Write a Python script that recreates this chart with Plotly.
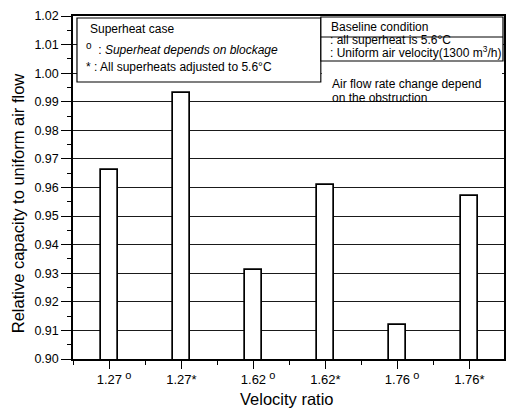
import plotly.graph_objects as go

# ---- data ----
categories = ["1.27 o", "1.27*", "1.62 o", "1.62*", "1.76 o", "1.76*"]
SUP_O = "<sup><span style='font-size:11px'> o</span></sup>"
HIDE_O = "<span style='color:rgba(0,0,0,0)'>" + SUP_O + "</span>"
tick_labels = [
    HIDE_O + "1.27" + SUP_O,
    "1.27*",
    HIDE_O + "1.62" + SUP_O,
    "1.62*",
    HIDE_O + "1.76" + SUP_O,
    "1.76*",
]
relative_capacity = [0.966, 0.993, 0.931, 0.961, 0.912, 0.957]
x_pos = list(range(len(categories)))

FONT = "Liberation Sans, Arial, Helvetica, sans-serif"
W, H = 506, 414
ML, MR, MT, MB = 73, 0, 16, 55
PW, PH = W - ML - MR, H - MT - MB


def px(x):
    return (x - ML) / PW


def py(y):
    return (H - MB - y) / PH


fig = go.Figure()
fig.add_trace(go.Bar(
    x=x_pos, y=relative_capacity, width=0.23,
    marker=dict(color="white", line=dict(color="black", width=1.7)),
    showlegend=False,
))

shapes = [
    # legend box 1
    dict(type="rect", xref="paper", yref="paper", x0=px(77), x1=px(322), y0=py(82), y1=py(18),
         fillcolor="white", line=dict(color="black", width=1.2), layer="above"),
    # baseline box
    dict(type="rect", xref="paper", yref="paper", x0=px(322), x1=px(505), y0=py(61), y1=py(17),
         fillcolor="white", line=dict(color="black", width=1.2), layer="above"),
    dict(type="line", xref="paper", yref="paper", x0=px(322), x1=px(505), y0=py(37), y1=py(37),
         line=dict(color="black", width=1), layer="above"),
    # white patch behind the air flow note
    dict(type="rect", xref="paper", yref="paper", x0=px(323), x1=px(504), y0=py(93), y1=py(62),
         fillcolor="white", line=dict(width=0), layer="above"),
]

f12 = dict(family=FONT, size=12, color="black")
annotations = [
    dict(text="Superheat case", x=px(88), y=py(29)),
    dict(text="<sup><span style='font-size:10px'>o</span></sup>  : <i>Superheat depends on blockage</i>",
         x=px(84), y=py(48)),
    dict(text="* : All superheats adjusted to 5.6°C", x=px(84), y=py(67)),
    dict(text="Baseline condition", x=px(330), y=py(27)),
    dict(text=": all superheat is 5.6°C", x=px(329), y=py(40)),
    dict(text=": Uniform air velocity(1300 m<sup>3</sup>/h)", x=px(329), y=py(52)),
    dict(text="Air flow rate change depend", x=px(331), y=py(84)),
    dict(text="on the obstruction", x=px(331), y=py(98)),
]
for a in annotations:
    a.update(xref="paper", yref="paper", xanchor="left", yanchor="middle",
             showarrow=False, font=f12)

annotations.append(dict(text="Velocity ratio", xref="paper", yref="paper",
                        x=px(288), y=py(399), xanchor="center", yanchor="middle",
                        showarrow=False, font=dict(family=FONT, size=16.5, color="black")))
annotations.append(dict(text="Relative capacity to uniform air flow", xref="paper", yref="paper",
                        x=px(18), y=py(203), xanchor="center", yanchor="middle", textangle=-90,
                        showarrow=False, font=dict(family=FONT, size=16.5, color="black")))

fig.update_layout(
    width=W, height=H,
    margin=dict(l=ML, r=MR, t=MT, b=MB, pad=0),
    plot_bgcolor="white", paper_bgcolor="white",
    font=dict(family=FONT, size=12, color="black"),
    shapes=shapes, annotations=annotations,
    bargap=0,
)
fig.update_xaxes(
    range=[-0.506, 5.48], tickmode="array", tickvals=x_pos, ticktext=tick_labels,
    showgrid=False, zeroline=False,
    showline=True, linecolor="black", linewidth=1.5, mirror=True,
    ticks="outside", ticklen=8, tickwidth=1.3, tickcolor="black",
    tickfont=dict(family=FONT, size=13, color="black"),
    minor=dict(tickmode="array", tickvals=[i - 0.5 for i in x_pos] + [x_pos[-1] + 0.5],
               ticks="outside", ticklen=4, tickwidth=1, tickcolor="black", showgrid=False),
)
fig.update_yaxes(
    range=[0.90, 1.02], tick0=0.90, dtick=0.01, tickformat=".2f",
    showgrid=True, gridcolor="#1a1a1a", gridwidth=1.2, zeroline=False,
    showline=True, linecolor="black", linewidth=1.5, mirror=True,
    ticks="outside", ticklen=10, tickwidth=1.3, tickcolor="black",
    tickfont=dict(family=FONT, size=12.5, color="black"),
    minor=dict(dtick=0.005, ticks="outside", ticklen=4, tickwidth=1, tickcolor="black", showgrid=False),
)

fig.write_html("out.html")
